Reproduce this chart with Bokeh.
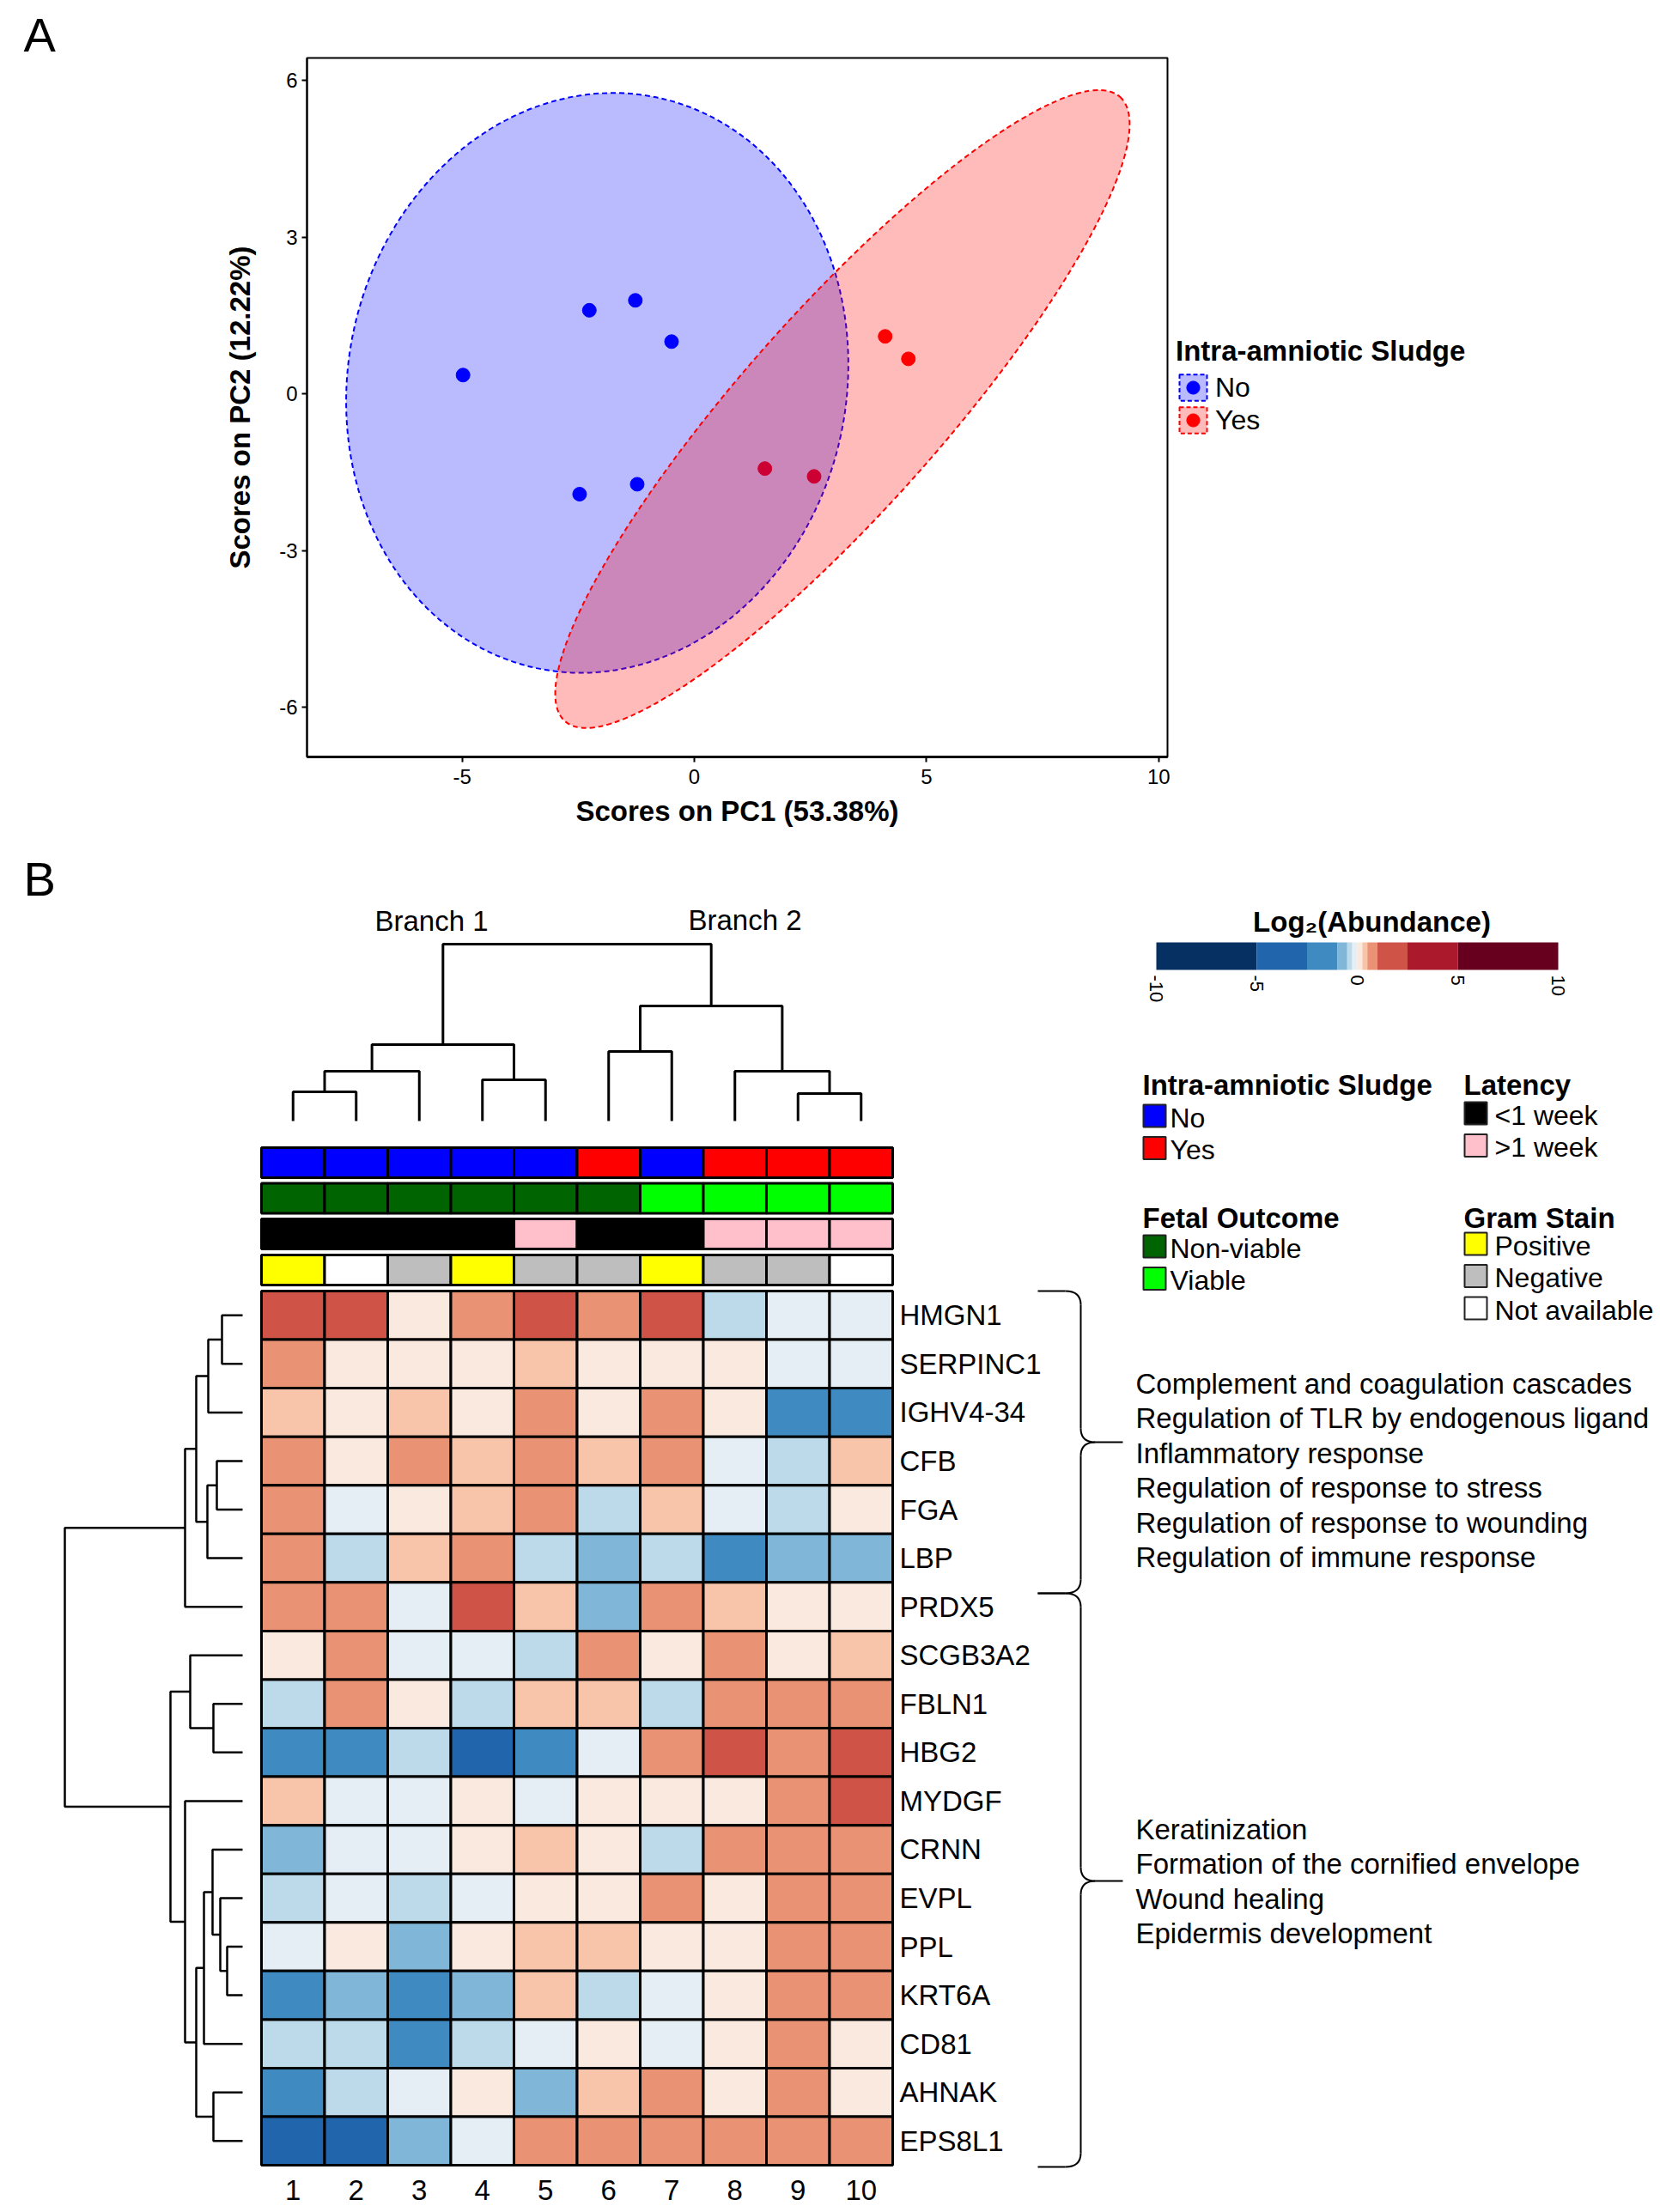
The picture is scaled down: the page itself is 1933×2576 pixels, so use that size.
import numpy as np
from bokeh.plotting import figure
from bokeh.models import (Range1d, Legend, LegendItem, ColumnDataSource,
                          LinearColorMapper, FixedTicker, Title)
from bokeh.transform import transform, factor_cmap
from bokeh.core.properties import value
from bokeh.embed import file_html
from bokeh.resources import INLINE

FONT = "Liberation Sans"
PAGE_W = 1933

# ---------------- Panel A data ----------------
pc1_no = [-4.98, -2.26, -1.27, -0.49, -2.47, -1.23]
pc2_no = [0.36, 1.60, 1.79, 1.00, -1.92, -1.73]
pc1_yes = [4.11, 4.61, 1.52, 2.58]
pc2_yes = [1.10, 0.67, -1.43, -1.58]
sludge_groups = ["No", "Yes"]
sludge_colors = ["#0000FF", "#FF0000"]
ell_cx = [-2.09, 3.19]
ell_cy = [0.21, -0.29]
ell_w = [10.73, 17.99]
ell_h = [11.17, 3.79]
ell_angle = [-0.209, 0.844]
pc1_ticks = [-5, 0, 5, 10]
pc2_ticks = [-6, -3, 0, 3, 6]

# ---------------- Panel B data ----------------
samples = ["1", "2", "3", "4", "5", "6", "7", "8", "9", "10"]
genes = ["HMGN1", "SERPINC1", "IGHV4-34", "CFB", "FGA", "LBP", "PRDX5", "SCGB3A2",
         "FBLN1", "HBG2", "MYDGF", "CRNN", "EVPL", "PPL", "KRT6A", "CD81", "AHNAK", "EPS8L1"]
log2_abundance = [
    [1.7, 1.7, 0.12, 0.75, 1.7, 0.75, 1.7, -0.38, -0.12, -0.12],
    [0.75, 0.12, 0.12, 0.12, 0.38, 0.12, 0.12, 0.12, -0.12, -0.12],
    [0.38, 0.12, 0.38, 0.12, 0.75, 0.12, 0.75, 0.12, -1.7, -1.7],
    [0.75, 0.12, 0.75, 0.38, 0.75, 0.38, 0.75, -0.12, -0.38, 0.38],
    [0.75, -0.12, 0.12, 0.38, 0.75, -0.38, 0.38, -0.12, -0.38, 0.12],
    [0.75, -0.38, 0.38, 0.75, -0.38, -0.75, -0.38, -1.7, -0.75, -0.75],
    [0.75, 0.75, -0.12, 1.7, 0.38, -0.75, 0.75, 0.38, 0.12, 0.12],
    [0.12, 0.75, -0.12, -0.12, -0.38, 0.75, 0.12, 0.75, 0.12, 0.38],
    [-0.38, 0.75, 0.12, -0.38, 0.38, 0.38, -0.38, 0.75, 0.75, 0.75],
    [-1.7, -1.7, -0.38, -3.5, -1.7, -0.12, 0.75, 1.7, 0.75, 1.7],
    [0.38, -0.12, -0.12, 0.12, -0.12, 0.12, 0.12, 0.12, 0.75, 1.7],
    [-0.75, -0.12, -0.12, 0.12, 0.38, 0.12, -0.38, 0.75, 0.75, 0.75],
    [-0.38, -0.12, -0.38, -0.12, 0.12, 0.12, 0.75, 0.12, 0.75, 0.75],
    [-0.12, 0.12, -0.75, 0.12, 0.38, 0.38, 0.12, 0.12, 0.75, 0.75],
    [-1.7, -0.75, -1.7, -0.75, 0.38, -0.38, -0.12, 0.12, 0.75, 0.75],
    [-0.38, -0.38, -1.7, -0.38, -0.12, 0.12, -0.12, 0.12, 0.75, 0.12],
    [-1.7, -0.38, -0.12, 0.12, -0.75, 0.38, 0.75, 0.12, 0.75, 0.12],
    [-3.5, -3.5, -0.75, -0.12, 0.75, 0.75, 0.75, 0.75, 0.75, 0.75],
]
sludge = ["No", "No", "No", "No", "No", "Yes", "No", "Yes", "Yes", "Yes"]
fetal = ["Non-viable"] * 6 + ["Viable"] * 4
latency = ["<1 week", "<1 week", "<1 week", "<1 week", ">1 week",
           "<1 week", "<1 week", ">1 week", ">1 week", ">1 week"]
gram = ["Positive", "Not available", "Negative", "Positive", "Negative",
        "Negative", "Positive", "Negative", "Negative", "Not available"]

fetal_levels = ["Non-viable", "Viable"]
fetal_colors = ["#006400", "#00FF00"]
latency_levels = ["<1 week", ">1 week"]
latency_colors = ["#000000", "#FFC0CB"]
gram_levels = ["Positive", "Negative", "Not available"]
gram_colors = ["#FFFF00", "#BEBEBE", "#FFFFFF"]

# column dendrogram (leaf order 1..10): merges (left, right, height)
col_left = [0, 10, 3, 11, 5, 8, 7, 14, 13]
col_right = [1, 2, 4, 12, 6, 9, 15, 16, 17]
col_height = [34, 58, 48, 89, 81, 32, 58, 134, 206]
# row dendrogram (leaf order as genes)
row_left = [0, 18, 3, 20, 19, 22, 8, 7, 13, 12, 11, 28, 16, 29, 10, 25, 23]
row_right = [1, 2, 4, 5, 21, 6, 9, 24, 14, 26, 27, 15, 17, 30, 31, 32, 33]
row_height = [24, 40, 30, 41, 54, 67, 34, 61, 18, 26, 35, 45, 34, 54, 67, 84, 207]

scale_breaks = [-10, -5, -2.5, -1, -0.5, -0.25, 0, 0.25, 0.5, 1, 2.5, 5, 10]
scale_colors = ["#053061", "#2166AC", "#3F8BC1", "#80B7D9", "#BCDAEA", "#E4EEF4",
                "#FAE9DF", "#F8C5AA", "#EA9374", "#CF5447", "#AA1A2C", "#67001F"]
scale_ticks = [-10, -5, 0, 5, 10]

pathways_1 = ["Complement and coagulation cascades",
              "Regulation of TLR by endogenous ligand",
              "Inflammatory response",
              "Regulation of response to stress",
              "Regulation of response to wounding",
              "Regulation of immune response"]
pathways_2 = ["Keratinization",
              "Formation of the cornified envelope",
              "Wound healing",
              "Epidermis development"]

# =============== Panel A =================
pA = figure(frame_width=1002, frame_height=814, min_border_left=357, min_border_right=565,
            min_border_top=67, min_border_bottom=107,
            x_range=Range1d(-8.34, 10.19), y_range=Range1d(-6.95, 6.43),
            toolbar_location=None, output_backend="svg")
pA.grid.visible = False
pA.outline_line_color = "black"
pA.outline_line_width = 2
pA.outline_line_alpha = 1

for ax in (pA.xaxis[0], pA.yaxis[0]):
    ax.major_tick_in = 0
    ax.major_tick_out = 6
    ax.major_tick_line_width = 2
    ax.major_tick_line_color = "black"
    ax.minor_tick_line_color = None
    ax.axis_line_color = "black"
    ax.major_label_text_font = FONT
    ax.major_label_text_font_size = "24px"
    ax.major_label_text_color = "black"
    ax.axis_label_text_font = FONT
    ax.axis_label_text_font_size = "33px"
    ax.axis_label_text_font_style = "bold"
    ax.axis_label_text_color = "black"
pA.xaxis.axis_line_width = 3
pA.yaxis.axis_line_width = 2
pA.xaxis.ticker = FixedTicker(ticks=pc1_ticks)
pA.yaxis.ticker = FixedTicker(ticks=pc2_ticks)
pA.xaxis.major_label_overrides = {t: str(t) for t in pc1_ticks}
pA.yaxis.major_label_overrides = {t: str(t) for t in pc2_ticks}
pA.xaxis.axis_label = "Scores on PC1 (53.38%)"
pA.yaxis.axis_label = "Scores on PC2 (12.22%)"
pA.xaxis.major_label_standoff = 8
pA.yaxis.major_label_standoff = 5
pA.xaxis.axis_label_standoff = 10
pA.yaxis.axis_label_standoff = 24

r_no = pA.scatter(pc1_no, pc2_no, size=16, fill_color=sludge_colors[0], line_color=sludge_colors[0])
r_yes = pA.scatter(pc1_yes, pc2_yes, size=16, fill_color=sludge_colors[1], line_color=sludge_colors[1])
ell_src = ColumnDataSource(dict(x=ell_cx, y=ell_cy, w=ell_w, h=ell_h, a=ell_angle, c=sludge_colors))
pA.ellipse(x="x", y="y", width="w", height="h", angle="a", source=ell_src,
           fill_color="c", fill_alpha=0.27, line_color="c", line_dash="6 4", line_width=2)

# zero-size key glyphs (only used to draw the legend keys)
k_no = pA.rect(x=ell_cx[:1], y=ell_cy[:1], width=0, height=0, fill_color=sludge_colors[0],
               fill_alpha=0.27, line_color=sludge_colors[0], line_dash="5 3", line_width=2)
k_yes = pA.rect(x=ell_cx[1:], y=ell_cy[1:], width=0, height=0, fill_color=sludge_colors[1],
                fill_alpha=0.27, line_color=sludge_colors[1], line_dash="5 3", line_width=2)
legA = Legend(items=[LegendItem(label=sludge_groups[0], renderers=[k_no, r_no]),
                     LegendItem(label=sludge_groups[1], renderers=[k_yes, r_yes])],
              title="Intra-amniotic Sludge", location=(10, 373),
              glyph_width=40, glyph_height=38, label_height=38, spacing=0, padding=0, margin=0,
              label_standoff=6, title_standoff=4,
              border_line_color=None, background_fill_alpha=0,
              title_text_font=FONT, title_text_font_size="33px", title_text_font_style="bold",
              title_text_color="black",
              label_text_font=FONT, label_text_font_size="32px", label_text_color="black")
pA.add_layout(legA, "right")

ttlA = Title(text="A", align="left", offset=-330, vertical_align="bottom",
             text_font=FONT, text_font_size="56px", text_font_style="normal", text_color="black")
try:
    ttlA.standoff = -9
except Exception:
    ttlA.standoff = 0
pA.add_layout(ttlA, "above")

# =============== Panel B =================
PX_U, PX_V, X0, Y0 = 73.5, 56.56, 304.0, 1503.0
B_TOP, B_BOT = 988, 2568


def U(px):
    return (px - X0) / PX_U


def V(py):
    return (py - Y0) / PX_V


pB = figure(frame_width=PAGE_W, frame_height=B_BOT - B_TOP, min_border=0,
            x_range=Range1d(U(0), U(PAGE_W)), y_range=Range1d(V(B_BOT), V(B_TOP)),
            x_axis_location=None, y_axis_location=None,
            toolbar_location=None, output_backend="svg")
pB.outline_line_color = None
pB.grid.visible = False

# colour scale: fine palette reproducing the uneven breaks
fine_palette = []
for i in range(80):
    v = -10 + (i + 0.5) * 0.25
    k = max(j for j in range(len(scale_colors)) if scale_breaks[j] <= v)
    fine_palette.append(scale_colors[k])
mapper = LinearColorMapper(palette=fine_palette, low=-10, high=10)

# heatmap
hx, hy, hv = [], [], []
for r, row in enumerate(log2_abundance):
    for c, val in enumerate(row):
        hx.append(c + 0.5)
        hy.append(r + 0.5)
        hv.append(val)
heat_src = ColumnDataSource(dict(x=hx, y=hy, v=hv))
pB.rect(x="x", y="y", width=1, height=1, source=heat_src,
        fill_color=transform("v", mapper), line_color="black", line_width=3)

# annotation bars
ann_h = 35 / PX_V
ann_rows = [(sludge, sludge_groups, sludge_colors, V(1353.5)),
            (fetal, fetal_levels, fetal_colors, V(1395)),
            (latency, latency_levels, latency_colors, V(1436.5)),
            (gram, gram_levels, gram_colors, V(1478.5))]
for vals, levels, cols, yc in ann_rows:
    src = ColumnDataSource(dict(x=[i + 0.5 for i in range(len(vals))], y=[yc] * len(vals), f=vals))
    pB.rect(x="x", y="y", width=1, height=ann_h, source=src,
            fill_color=factor_cmap("f", palette=cols, factors=levels),
            line_color="black", line_width=3)


def dendro(left, right, height, n):
    pos = [i + 0.5 for i in range(n)]
    hgt = [0.0] * n
    ps, hs = [], []
    for a, b, h in zip(left, right, height):
        ps.append([pos[a], pos[a], pos[b], pos[b]])
        hs.append([hgt[a], h, h, hgt[b]])
        pos.append((pos[a] + pos[b]) / 2)
        hgt.append(h)
    return ps, hs


# column dendrogram
cps, chs = dendro(col_left, col_right, col_height, len(samples))
c_leaf, c_scale = V(1305), (V(1305) - V(1099)) / max(col_height)
pB.multi_line(xs=cps, ys=[[c_leaf - h * c_scale for h in hh] for hh in chs],
              line_color="black", line_width=3)
# row dendrogram
rps, rhs = dendro(row_left, row_right, row_height, len(genes))
r_leaf, r_scale = U(282), (U(282) - U(75)) / max(row_height)
pB.multi_line(xs=[[r_leaf - h * r_scale for h in hh] for hh in rhs], ys=rps,
              line_color="black", line_width=2.5)

TXT = dict(text_font=value(FONT), text_font_size="33px", text_color="black")
# gene labels
pB.text(x=[U(1047)] * len(genes), y=[i + 0.5 for i in range(len(genes))], text=genes,
        text_align="left", text_baseline="middle", **TXT)
# sample labels
pB.text(x=[i + 0.5 for i in range(len(samples))], y=[V(2550)] * len(samples), text=samples,
        text_align="center", text_baseline="middle", **TXT)
# branch labels
pB.text(x=[U(502), U(867)], y=[V(1072), V(1071)], text=["Branch 1", "Branch 2"],
        text_align="center", text_baseline="middle", **TXT)
# panel letter
pB.text(x=[U(27)], y=[V(1022.5)], text=["B"], text_align="left", text_baseline="middle",
        text_font=value(FONT), text_font_size="56px", text_color="black")

# colour bar
cb_x0, cb_x1 = U(1346), U(1814)
cb_k = (cb_x1 - cb_x0) / (scale_breaks[-1] - scale_breaks[0])
cb_src = ColumnDataSource(dict(
    l=[cb_x0 + (b - scale_breaks[0]) * cb_k for b in scale_breaks[:-1]],
    r=[cb_x0 + (b - scale_breaks[0]) * cb_k for b in scale_breaks[1:]],
    m=[(a + b) / 2 for a, b in zip(scale_breaks[:-1], scale_breaks[1:])]))
pB.quad(left="l", right="r", top=V(1097), bottom=V(1129), source=cb_src,
        fill_color=transform("m", mapper), line_color=None)
pB.text(x=[cb_x0 + (t - scale_breaks[0]) * cb_k for t in scale_ticks], y=[V(1135)] * len(scale_ticks),
        text=[str(t) for t in scale_ticks], angle=-np.pi / 2, text_align="left",
        text_baseline="middle", text_font=value(FONT), text_font_size="22px", text_color="black")
pB.text(x=[U(1597)], y=[V(1073)], text=["Log\u2082(Abundance)"],
        text_align="center", text_baseline="middle", text_font=value(FONT),
        text_font_size="33px", text_font_style="bold", text_color="black")

# annotation legends
BOLD = dict(text_font=value(FONT), text_font_size="33px", text_font_style="bold",
            text_color="black", text_align="left", text_baseline="middle")
LEG_TXT = dict(text_font=value(FONT), text_font_size="32px", text_color="black")
leg_defs = [("Intra-amniotic Sludge", sludge_groups, sludge_colors, 1330, 1263, 36),
            ("Latency", latency_levels, latency_colors, 1704, 1263, 33),
            ("Fetal Outcome", fetal_levels, fetal_colors, 1330, 1418, 33),
            ("Gram Stain", gram_levels, gram_colors, 1704, 1418, 30)]
for title, labels, cols, lx, ly, first in leg_defs:
    pB.text(x=[U(lx)], y=[V(ly)], text=[title], **BOLD)
    ys = [ly + first + 37.5 * i for i in range(len(labels))]
    pB.rect(x=[U(lx + 14)] * len(labels), y=[V(y) for y in ys], width=26 / PX_U, height=26 / PX_V,
            fill_color=cols, line_color="#222222", line_width=2)
    pB.text(x=[U(lx + 36 if lx > 1500 else lx + 32)] * len(labels), y=[V(y + 2) for y in ys],
            text=labels, text_align="left", text_baseline="middle", **LEG_TXT)

# pathway texts
pB.text(x=[U(1322)] * len(pathways_1), y=[V(1611 + 40.4 * i) for i in range(len(pathways_1))],
        text=pathways_1, text_align="left", text_baseline="middle", **TXT)
pB.text(x=[U(1322)] * len(pathways_2), y=[V(2130 + 40.4 * i) for i in range(len(pathways_2))],
        text=pathways_2, text_align="left", text_baseline="middle", **TXT)

# braces
brace_spans = [(1503, 1679, 1855), (1855, 2190, 2523)]
xe, xv, xt, rr = 1208, 1258, 1307, 16
seg_x0, seg_y0, seg_x1, seg_y1 = [], [], [], []
q = dict(x0=[], y0=[], x1=[], y1=[], cx=[], cy=[])
for top, mid, bot in brace_spans:
    for (a, b) in [((xe, top), (1240, top)), ((xv, top + rr), (xv, mid - rr)),
                   ((1275, mid), (xt, mid)), ((xv, mid + rr), (xv, bot - rr)),
                   ((xe, bot), (1240, bot))]:
        seg_x0.append(U(a[0])); seg_y0.append(V(a[1]))
        seg_x1.append(U(b[0])); seg_y1.append(V(b[1]))
    for (p0, c0, p1) in [((1240, top), (xv, top), (xv, top + rr)),
                         ((xv, mid - rr), (xv, mid), (1275, mid)),
                         ((xv, mid + rr), (xv, mid), (1275, mid)),
                         ((1240, bot), (xv, bot), (xv, bot - rr))]:
        q["x0"].append(U(p0[0])); q["y0"].append(V(p0[1]))
        q["cx"].append(U(c0[0])); q["cy"].append(V(c0[1]))
        q["x1"].append(U(p1[0])); q["y1"].append(V(p1[1]))
pB.segment(x0=seg_x0, y0=seg_y0, x1=seg_x1, y1=seg_y1, line_color="black", line_width=2)
pB.quadratic(x0="x0", y0="y0", x1="x1", y1="y1", cx="cx", cy="cy",
             source=ColumnDataSource(q), line_color="black", line_width=2)

open("out.html", "w").write(file_html([pA, pB], INLINE))
